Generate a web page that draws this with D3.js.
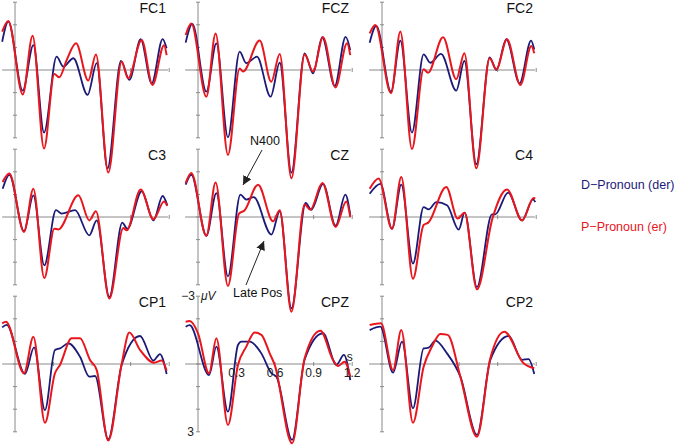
<!DOCTYPE html>
<html><head><meta charset="utf-8">
<script src="https://cdn.jsdelivr.net/npm/d3@7"></script>
<style>body{margin:0;background:#fff} svg{display:block;font-family:"Liberation Sans",Arial,Helvetica,sans-serif}</style>
</head><body><svg id="c" width="680" height="447"></svg>
<script>
// ---------- data ----------
const panelNames = ["FC1","FCZ","FC2","C3","CZ","C4","CP1","CPZ","CP2"];
const seriesNames = ["D\u2212Pronoun (der)", "P\u2212Pronoun (er)"];
const yTicks = [-3,-2,-1,0,1,2,3];
const xTicks = [0.3,0.6,0.9,1.2];
const xTickLabels = ["0.3","0.6","0.9","1.2"];
// [time (s), amplitude (µV)], negative plotted up
const FC1_D = [[-0.1,-1.25],[-0.052,-2.14],[0.06,0.91],[0.143,-1.1],[0.226,2.77],[0.324,-0.59],[0.376,-0.15],[0.454,-0.52],[0.565,1.1],[0.636,-0.3],[0.72,4.35],[0.825,-0.4],[0.89,0.44],[0.978,-1.36],[1.064,0.59],[1.149,-1.37],[1.18,-0.96]];
const FC1_P = [[-0.1,-1.7],[-0.052,-2.17],[0.06,1.08],[0.137,-1.52],[0.226,3.47],[0.306,0.18],[0.345,0.32],[0.402,-0.44],[0.475,-1.18],[0.57,0.47],[0.63,-0.69],[0.726,4.54],[0.83,-0.37],[0.88,0.37],[0.986,-1.33],[1.07,0.66],[1.16,-1.1],[1.18,-0.66]];
const FCZ_D = [[-0.096,-1.21],[-0.044,-2.04],[0.065,0.96],[0.143,-1.18],[0.233,2.98],[0.324,-0.81],[0.376,-0.3],[0.459,-0.59],[0.565,1.18],[0.636,-0.32],[0.727,4.54],[0.83,-0.74],[0.895,0.15],[0.967,-1.45],[1.064,0.71],[1.149,-1.47],[1.185,-0.88]];
const FCZ_P = [[-0.096,-1.55],[-0.052,-2.06],[0.065,1.18],[0.137,-1.62],[0.233,3.76],[0.324,-0.07],[0.35,0.07],[0.48,-1.3],[0.57,0.52],[0.636,-0.71],[0.727,4.79],[0.83,-0.69],[0.895,0.07],[0.973,-1.45],[1.07,0.77],[1.16,-1.18],[1.185,-0.66]];
const FC2_D = [[-0.096,-1.21],[-0.044,-1.95],[0.07,0.96],[0.143,-1.3],[0.233,2.77],[0.324,-0.69],[0.376,-0.32],[0.459,-0.71],[0.578,0.91],[0.641,-0.4],[0.734,4.17],[0.838,-0.56],[0.89,0],[0.968,-1.36],[1.071,0.59],[1.16,-1.3],[1.185,-0.91]];
const FC2_P = [[-0.096,-1.62],[-0.052,-1.99],[0.07,1.03],[0.143,-1.7],[0.233,3.5],[0.324,-0.03],[0.358,0.12],[0.475,-1.45],[0.578,0.41],[0.641,-0.74],[0.734,4.35],[0.838,-0.52],[0.89,-0.03],[0.973,-1.36],[1.077,0.66],[1.162,-1.06],[1.185,-0.74]];
const C3_D = [[-0.096,-1.25],[-0.044,-1.87],[0.07,0.63],[0.143,-0.96],[0.228,2.14],[0.319,-0.3],[0.363,-0.15],[0.467,-0.3],[0.578,0.81],[0.636,0.15],[0.734,3.54],[0.835,0.25],[0.874,0.52],[0.986,-1.14],[1.077,0.15],[1.149,-0.93],[1.185,-0.52]];
const C3_P = [[-0.096,-1.55],[-0.044,-1.92],[0.07,0.66],[0.143,-1.25],[0.228,2.7],[0.306,0.52],[0.337,0.55],[0.493,-0.96],[0.578,0.15],[0.63,-0.25],[0.734,3.61],[0.843,0.49],[0.869,0.59],[0.978,-1.22],[1.077,0.1],[1.16,-0.69],[1.185,-0.49]];
const CZ_D = [[-0.096,-1.43],[-0.052,-1.87],[0.065,0.83],[0.143,-1.06],[0.233,2.63],[0.33,-0.99],[0.376,-0.77],[0.433,-0.88],[0.571,0.78],[0.636,-0.25],[0.727,4.04],[0.838,-0.62],[0.882,-0.32],[0.973,-1.47],[1.071,0.38],[1.147,-0.99],[1.185,-0.1]];
const CZ_P = [[-0.096,-1.5],[-0.052,-1.95],[0.065,0.83],[0.137,-1.53],[0.233,3.05],[0.319,-0.15],[0.363,-0.3],[0.467,-1.43],[0.584,0.19],[0.636,-0.3],[0.727,4.19],[0.83,-0.55],[0.874,-0.32],[0.968,-1.5],[1.071,0.44],[1.154,-0.69],[1.185,0]];
const C4_D = [[-0.096,-1.03],[-0.013,-1.47],[0.078,0.52],[0.15,-1.43],[0.241,2.06],[0.324,-0.44],[0.363,-0.34],[0.423,-0.66],[0.506,-0.52],[0.597,0.56],[0.643,-0.19],[0.739,3.1],[0.856,-0.12],[0.882,-0.12],[0.981,-1.08],[1.09,0.15],[1.175,-0.78],[1.193,-0.66]];
const C4_P = [[-0.096,-1.25],[-0.026,-1.7],[0.078,0.52],[0.15,-1.77],[0.241,2.73],[0.324,0.35],[0.36,0.25],[0.5,-1.33],[0.589,0.07],[0.643,-0.19],[0.739,3.2],[0.86,0.05],[0.973,-1.22],[1.09,0.15],[1.18,-0.84],[1.193,-0.81]];
const CP1_D = [[-0.1,-1.62],[-0.065,-1.73],[0.078,0.44],[0.148,-0.74],[0.233,2.04],[0.311,-0.62],[0.35,-0.69],[0.415,-0.91],[0.506,-0.32],[0.578,0.56],[0.623,0.53],[0.726,3.33],[0.83,0.04],[0.973,-1.24],[1.077,-0.15],[1.128,-0.44],[1.18,0.44]];
const CP1_P = [[-0.1,-1.8],[-0.07,-1.87],[0.07,0.41],[0.143,-1.21],[0.233,2.6],[0.311,0.41],[0.35,0.04],[0.441,-1.14],[0.506,-1.14],[0.584,-0.18],[0.636,0.27],[0.726,3.39],[0.83,0],[0.89,-1.39],[0.973,-0.62],[1.082,-0.06],[1.141,-0.15],[1.18,0.3]];
const CPZ_D = [[-0.096,-1.65],[-0.065,-1.72],[0.086,0.49],[0.143,-0.77],[0.233,2.11],[0.311,-0.84],[0.337,-0.99],[0.402,-0.99],[0.493,-0.47],[0.571,0.41],[0.61,0.56],[0.732,3.36],[0.83,-0.2],[0.973,-1.36],[1.077,0.04],[1.136,-0.4],[1.185,0.71]];
const CPZ_P = [[-0.096,-1.87],[-0.065,-1.9],[0,-1.36],[0.086,0.41],[0.143,-1.14],[0.233,2.7],[0.311,0.04],[0.376,-0.77],[0.441,-1.39],[0.493,-1.29],[0.558,-0.47],[0.597,0.04],[0.732,3.51],[0.83,-0.25],[0.952,-1.47],[1.051,-0.18],[1.09,0.09],[1.141,-0.1],[1.185,0.56]];
const CP2_D = [[-0.096,-1.5],[-0.013,-1.65],[0.086,0.38],[0.156,-0.99],[0.241,1.96],[0.324,-0.69],[0.363,-0.72],[0.415,-1.03],[0.506,-0.47],[0.61,0.56],[0.739,3.14],[0.843,-0.18],[0.986,-1.24],[1.09,-0.18],[1.141,-0.22],[1.185,0.44]];
const CP2_P = [[-0.096,-1.73],[-0.008,-1.8],[0.086,0.27],[0.15,-1.5],[0.241,2.6],[0.324,0.12],[0.389,-0.77],[0.454,-1.33],[0.511,-1.29],[0.61,0.56],[0.739,3.22],[0.843,-0.25],[0.952,-1.43],[1.102,-0.03],[1.185,0.19]];

const seriesD = [FC1_D, FCZ_D, FC2_D, C3_D, CZ_D, C4_D, CP1_D, CPZ_D, CP2_D];
const seriesP = [FC1_P, FCZ_P, FC2_P, C3_P, CZ_P, C4_P, CP1_P, CPZ_P, CP2_P];

// ---------- layout ----------
const colX = [15, 198, 382];
const rowY = [70, 217, 364];
const pxPerSec = 128.5, pxPerUV = 22.6;
const colors = ["#1b1a78", "#e8161d"];
const axisColor = "#8a8a8a";

const svg = d3.select("#c");
const labelPanel = 7;

panelNames.forEach((name, i) => {
  const ax = colX[i % 3], zy = rowY[Math.floor(i / 3)];
  const x = d3.scaleLinear().domain([0, 1]).range([ax, ax + pxPerSec]);
  const y = d3.scaleLinear().domain([0, 1]).range([zy, zy + pxPerUV]);
  const g = svg.append("g");

  // horizontal axis
  g.append("line").attr("x1", x(-0.1)).attr("x2", x(1.19)).attr("y1", y(0)).attr("y2", y(0))
    .attr("stroke", axisColor).attr("stroke-width", 1);
  g.selectAll(".xt").data(xTicks).join("line")
    .attr("x1", d => x(d)).attr("x2", d => x(d)).attr("y1", y(0) - 2).attr("y2", y(0) + 2)
    .attr("stroke", axisColor).attr("stroke-width", 1);
  // vertical axis
  g.append("line").attr("x1", x(0)).attr("x2", x(0)).attr("y1", y(-3)).attr("y2", y(3))
    .attr("stroke", axisColor).attr("stroke-width", 1);
  g.selectAll(".yt").data(yTicks).join("line")
    .attr("x1", x(0) - 2).attr("x2", x(0) + 2).attr("y1", d => y(d)).attr("y2", d => y(d))
    .attr("stroke", axisColor).attr("stroke-width", 1);

  // curves
  const line = d3.line().x(d => x(d[0])).y(d => y(d[1])).curve(d3.curveMonotoneX);
  [seriesD[i], seriesP[i]].forEach((s, k) => {
    g.append("path").attr("d", line(s)).attr("fill", "none")
      .attr("stroke", colors[k]).attr("stroke-width", k ? 2 : 1.8)
      .attr("stroke-linejoin", "round");
  });

  // panel title
  g.append("text").attr("x", ax + 151).attr("y", zy - 57).attr("text-anchor", "end")
    .attr("font-size", 14).attr("fill", "#111").text(name);

  if (i === labelPanel) {
    g.selectAll(".xl").data(xTicks).join("text")
      .attr("x", d => x(d)).attr("y", y(0) + 13).attr("text-anchor", "middle")
      .attr("font-size", 12).attr("fill", "#222").text((d, j) => xTickLabels[j]);
    g.append("text").attr("x", x(1.18)).attr("y", y(0) - 3).attr("text-anchor", "middle")
      .attr("font-size", 12).attr("fill", "#222").text("s");
    g.append("text").attr("x", x(0) - 3).attr("y", y(-3) + 4).attr("text-anchor", "end")
      .attr("font-size", 12).attr("fill", "#222").text("\u22123");
    g.append("text").attr("x", x(0) + 3).attr("y", y(-3) + 4).attr("text-anchor", "start")
      .attr("font-size", 12).attr("font-style", "italic").attr("fill", "#222").text("\u03bcV");
    g.append("text").attr("x", x(0) - 4).attr("y", y(3) + 4).attr("text-anchor", "end")
      .attr("font-size", 12).attr("fill", "#222").text("3");
  }
});

// legend
seriesNames.forEach((n, k) => {
  svg.append("text").attr("x", 581).attr("y", 189 + k * 42).attr("font-size", 12.5)
    .attr("fill", colors[k]).text(n);
});

// annotations
const defs = svg.append("defs");
defs.append("marker").attr("id", "ah").attr("viewBox", "0 0 10 10").attr("refX", 10).attr("refY", 5)
  .attr("markerWidth", 9).attr("markerHeight", 9).attr("markerUnits", "userSpaceOnUse").attr("orient", "auto")
  .append("path").attr("d", "M0,0 L10,5 L0,10 Z").attr("fill", "#222");
svg.append("text").attr("x", 250).attr("y", 145).attr("font-size", 12.5).attr("fill", "#111").text("N400");
svg.append("line").attr("x1", 262).attr("y1", 150).attr("x2", 243).attr("y2", 185)
  .attr("stroke", "#222").attr("stroke-width", 1).attr("marker-end", "url(#ah)");
svg.append("text").attr("x", 233).attr("y", 297).attr("font-size", 12.5).attr("fill", "#111").text("Late Pos");
svg.append("line").attr("x1", 246).attr("y1", 285).attr("x2", 264).attr("y2", 241)
  .attr("stroke", "#222").attr("stroke-width", 1).attr("marker-end", "url(#ah)");
</script></body></html>
